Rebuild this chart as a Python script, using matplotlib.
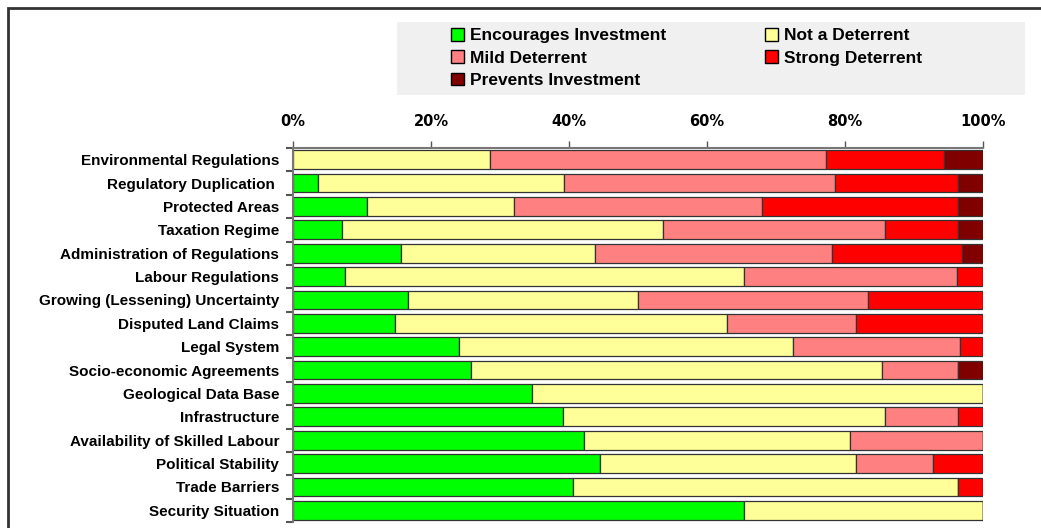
import matplotlib
matplotlib.use("Agg")
import matplotlib.pyplot as plt
from matplotlib.patches import Rectangle
from matplotlib.ticker import FixedLocator, PercentFormatter
import numpy as np

categories = [
    "Environmental Regulations",
    "Regulatory Duplication ",
    "Protected Areas",
    "Taxation Regime",
    "Administration of Regulations",
    "Labour Regulations",
    "Growing (Lessening) Uncertainty",
    "Disputed Land Claims",
    "Legal System",
    "Socio-economic Agreements",
    "Geological Data Base",
    "Infrastructure",
    "Availability of Skilled Labour",
    "Political Stability",
    "Trade Barriers",
    "Security Situation",
]

encourages = [0.0, 3.6, 10.7, 7.1, 15.6, 7.6, 16.7, 14.8, 24.1, 25.8, 34.7, 39.2, 42.2, 44.5, 40.6, 65.3]
not_deterrent = [28.6, 35.7, 21.3, 46.5, 28.2, 57.8, 33.3, 48.1, 48.4, 59.5, 65.3, 46.6, 38.5, 37.1, 55.8, 34.7]
mild = [48.6, 39.3, 35.9, 32.2, 34.3, 30.9, 33.4, 18.7, 24.2, 11.1, 0.0, 10.6, 19.3, 11.1, 0.0, 0.0]
strong = [17.2, 17.8, 28.5, 10.6, 18.9, 3.7, 16.6, 18.4, 3.3, 0.0, 0.0, 3.6, 0.0, 7.3, 3.6, 0.0]
prevents = [5.6, 3.6, 3.6, 3.6, 3.0, 0.0, 0.0, 0.0, 0.0, 3.6, 0.0, 0.0, 0.0, 0.0, 0.0, 0.0]

series_names = ["Encourages Investment", "Not a Deterrent", "Mild Deterrent",
                "Strong Deterrent", "Prevents Investment"]
series_colors = ["#00FF00", "#FFFF99", "#FF8080", "#FF0000", "#800000"]
series_values = [encourages, not_deterrent, mild, strong, prevents]

fig = plt.figure(figsize=(10.41, 5.28), dpi=100)
W, H = 1041, 528
ax = fig.add_axes([293 / W, 6 / H, 690 / W, 374 / H])

n = len(categories)
y = np.arange(n)
left = np.zeros(n)
for name, color, vals in zip(series_names, series_colors, series_values):
    v = np.array(vals)
    ax.barh(y, v, left=left, height=0.8, color=color, edgecolor="#333333",
            linewidth=0.9, label=name)
    left += v

ax.set_xlim(0, 100)
ax.set_ylim(n - 0.5, -0.5)
ax.xaxis.tick_top()
ax.xaxis.set_major_locator(FixedLocator([0, 20, 40, 60, 80, 100]))
ax.xaxis.set_major_formatter(PercentFormatter(decimals=0))
ax.tick_params(axis="x", direction="out", length=5, width=1, color="#555555",
               pad=9, labelsize=10.5)
for lab in ax.get_xticklabels():
    lab.set_fontweight("bold")
    lab.set_family("DejaVu Sans")

ax.set_yticks(y)
ax.set_yticklabels(categories, fontsize=11, fontweight="bold", family="Liberation Sans")
ax.set_yticks(np.arange(n + 1) - 0.5, minor=True)
ax.tick_params(axis="y", which="major", length=0, pad=10)
ax.tick_params(axis="y", which="minor", length=5, width=1.5, color="#555555")

for s in ["right", "bottom"]:
    ax.spines[s].set_visible(False)
for s in ["top", "left"]:
    ax.spines[s].set_color("#777777")
    ax.spines[s].set_linewidth(1.5)

# legend background box
fig.patches.append(Rectangle((397 / W, 1 - 95 / H), (1025 - 397) / W, (95 - 22) / H,
                             transform=fig.transFigure, facecolor="#F0F0F0",
                             edgecolor="none", zorder=0))
handles, labels = ax.get_legend_handles_labels()
order = [0, 2, 4, 1, 3]  # row-major reading order for 2 columns
leg = fig.legend([handles[i] for i in order], [labels[i] for i in order], ncol=2,
                 loc="upper left",
                 bbox_to_anchor=(444 / W, 1 - 21 / H), frameon=False,
                 prop={"family": "Liberation Sans", "weight": "bold", "size": 12.5},
                 handlelength=0.75, handleheight=0.75, handletextpad=0.35,
                 columnspacing=5.7, labelspacing=0.4, borderaxespad=0)
for h in leg.legend_handles:
    h.set_edgecolor("black")
    h.set_linewidth(1)

# figure frame
fig.patches.append(Rectangle((8 / W, -0.05), 1.1, 1 - 8 / H + 0.05,
                             transform=fig.transFigure, facecolor="none",
                             edgecolor="#333333", linewidth=2, zorder=5))

fig.savefig("out.png", dpi=100)
